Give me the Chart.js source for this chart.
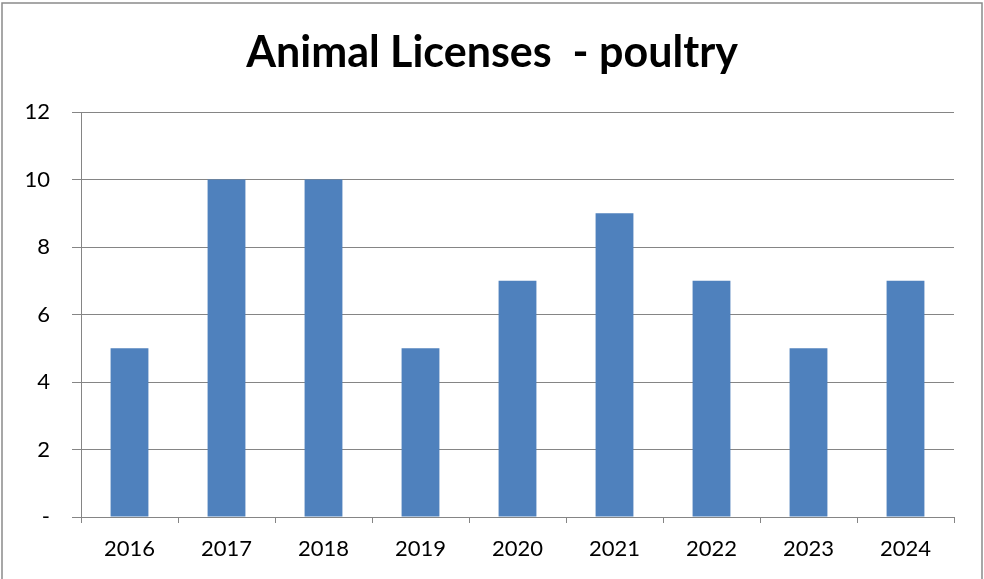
<!DOCTYPE html>
<html>
<head>
<meta charset="utf-8">
<script src="https://cdn.jsdelivr.net/npm/chart.js@4"></script>
<style>
html,body{margin:0;padding:0;background:#fff;}
#wrap{width:984px;height:579px;position:relative;}
</style>
</head>
<body>
<div id="wrap"><canvas id="c" width="984" height="579"></canvas></div>
<script>
const titleText = 'Animal Licenses  - poultry';
const categories = ['2016','2017','2018','2019','2020','2021','2022','2023','2024'];
const values = [5, 10, 10, 5, 7, 9, 7, 5, 7];
const yTicks = [0, 2, 4, 6, 8, 10, 12];

const FONT = 'Lato, "Open Sans", sans-serif';
const GRID = '#858585';

const borderPlugin = {
  id: 'outerBorder',
  afterDraw(chart) {
    const ctx = chart.ctx;
    ctx.save();
    ctx.strokeStyle = '#8a8a8a';
    ctx.lineWidth = 1.5;
    ctx.strokeRect(2, 3, 980, 590);
    ctx.restore();
  }
};

new Chart(document.getElementById('c'), {
  type: 'bar',
  data: {
    labels: categories,
    datasets: [{
      data: values,
      backgroundColor: '#4f81bd',
      borderWidth: 0,
      barPercentage: 0.39,
      categoryPercentage: 1.0
    }]
  },
  options: {
    responsive: false,
    animation: false,
    devicePixelRatio: 1,
    layout: { padding: { left: 0, right: 0, top: 0, bottom: 0 } },
    plugins: {
      legend: { display: false },
      tooltip: { enabled: false },
      title: {
        display: true,
        text: titleText,
        color: '#000',
        font: { family: FONT, size: 43, weight: 'bold', lineHeight: 1.2 },
        padding: { top: 27, bottom: 33.4 }
      }
    },
    scales: {
      x: {
        grid: { display: true, drawOnChartArea: false, drawTicks: true, tickLength: 6, color: GRID, offset: true },
        border: { display: true, color: GRID, width: 1 },
        ticks: { color: '#000', font: { family: FONT, size: 22 }, padding: 13, maxRotation: 0 },
        afterFit(scale) { scale.height = 62; }
      },
      y: {
        min: 0, max: 12,
        afterBuildTicks(scale) { scale.ticks = yTicks.map(v => ({ value: v })); },
        grid: { display: true, drawOnChartArea: true, drawTicks: true, tickLength: 9, color: GRID },
        border: { display: true, color: GRID, width: 1 },
        ticks: {
          color: '#000', font: { family: FONT, size: 22 }, padding: 22,
          callback: (v) => v === 0 ? '-' : String(v)
        },
        afterFit(scale) { scale.width = 81; }
      },
      yRight: {
        position: 'right',
        display: true,
        grid: { display: false, drawTicks: false },
        border: { display: false },
        ticks: { display: false },
        afterFit(scale) { scale.width = 30; }
      }
    }
  },
  plugins: [borderPlugin]
});
</script>
</body>
</html>
